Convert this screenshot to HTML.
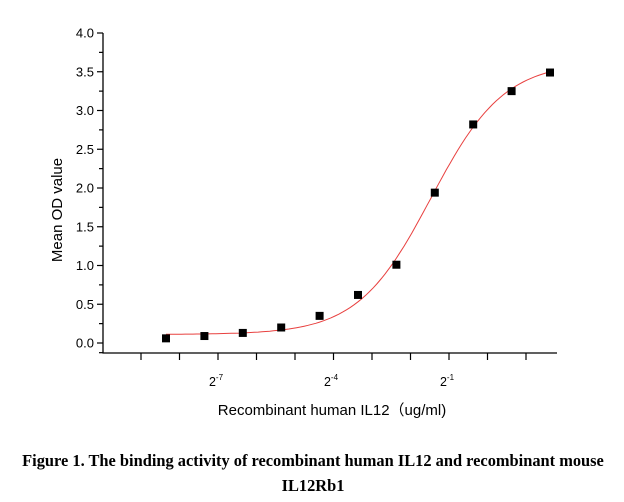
<!DOCTYPE html>
<html><head><meta charset="utf-8"><style>
body{margin:0;background:#fff;width:624px;height:502px;overflow:hidden}
svg{display:block}
</style></head><body>
<svg id="s" width="624" height="502" xmlns="http://www.w3.org/2000/svg" font-family="Liberation Sans, Arial, sans-serif">
<g stroke="#000" stroke-width="1.3" fill="none">
<line x1="103" y1="33" x2="103" y2="353.5"/>
<line x1="102.5" y1="353" x2="557" y2="353"/>
</g>
<g id="yt" stroke="#000" stroke-width="1.2"></g>
<g id="xt" stroke="#000" stroke-width="1.2"></g>
<g id="yl" font-size="13" text-anchor="end" fill="#000"></g>
<g font-size="12.5" fill="#000" text-anchor="middle">
<text x="216" y="386">2<tspan font-size="8" dy="-6">-7</tspan></text>
<text x="331" y="386">2<tspan font-size="8" dy="-6">-4</tspan></text>
<text x="447" y="386">2<tspan font-size="8" dy="-6">-1</tspan></text>
</g>
<text x="332" y="415" font-size="15" text-anchor="middle">Recombinant human IL12（ug/ml)</text>
<text transform="translate(62,210) rotate(-90)" font-size="15" text-anchor="middle">Mean OD value</text>
<path id="c" fill="none" stroke="#e8403f" stroke-width="1"/>
<g id="pts" fill="#000"></g>
<g font-family="Liberation Serif, Times New Roman, serif" font-weight="bold" font-size="16.4" text-anchor="middle" fill="#000">
<text x="313" y="466">Figure 1. The binding activity of recombinant human IL12 and recombinant mouse</text>
<text x="313" y="491">IL12Rb1</text>
</g>
</svg>
<script>
var NS="http://www.w3.org/2000/svg";
function el(p,t,a){var e=document.createElementNS(NS,t);for(var k in a)e.setAttribute(k,a[k]);document.getElementById(p).appendChild(e);return e;}
function Y(v){return 343-v*77.5;}
for(var i=0;i<=16;i++){var v=i*0.25,y=Y(v);el("yt","line",{x1:103,x2:i%2?99:97,y1:y,y2:y});
 if(i%2==0){var t=el("yl","text",{x:94,y:y+4.5});t.textContent=(v).toFixed(1);}}
el("yt","line",{x1:103,x2:99,y1:Y(-0.125),y2:Y(-0.125)});
for(var j=0;j<11;j++){var x=141+j*38.5;el("xt","line",{x1:x,x2:x,y1:353,y2:360});}
var vals=[0.06,0.09,0.13,0.2,0.35,0.62,1.01,1.94,2.82,3.25,3.49];
for(var j=0;j<11;j++){var x=166+j*38.4;el("pts","rect",{x:x-4,y:Y(vals[j])-4,width:8,height:8});}
var d="";for(var t=0;t<=10.001;t+=0.1){var v=0.11+3.52/(1+Math.exp(-1.05*(t-6.9)));d+=(t==0?"M":"L")+(166+t*38.4).toFixed(1)+","+Y(v).toFixed(1);}
document.getElementById("c").setAttribute("d",d);
</script>
</body></html>
